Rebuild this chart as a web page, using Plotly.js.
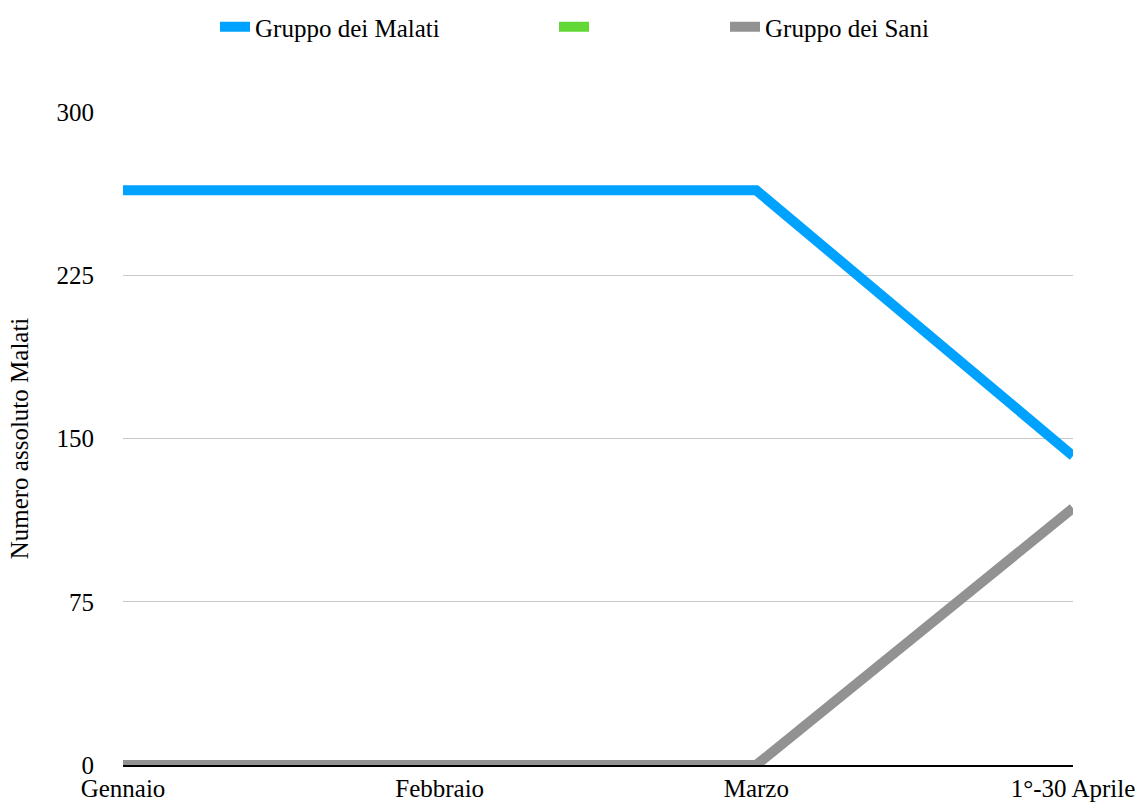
<!DOCTYPE html>
<html>
<head>
<meta charset="utf-8">
<script src="https://cdn.plot.ly/plotly-3.0.1.min.js"></script>
<style>html,body{margin:0;padding:0;background:#fff;}#chart{width:1142px;height:803px;}</style>
</head>
<body>
<div id="chart"></div>
<script>
const categories = ["Gennaio", "Febbraio", "Marzo", "1°-30 Aprile"];
const malati = [264, 264, 264, 142];
const serieVerde = [null, null, null, null];
const sani = [0, 0, 0, 118];
const yTicks = [0, 75, 150, 225, 300];

const FONT = "Liberation Serif, Times New Roman, serif";

const traces = [
  {x: categories, y: serieVerde, name: "", type: "scatter", mode: "lines",
   line: {color: "#61D836", width: 10}, cliponaxis: false, legend: "legend2"},
  {x: categories, y: sani, name: "Gruppo dei Sani", type: "scatter", mode: "lines",
   line: {color: "#929292", width: 10}, cliponaxis: false, legend: "legend3"},
  {x: categories, y: malati, name: "Gruppo dei Malati", type: "scatter", mode: "lines",
   line: {color: "#00A2FF", width: 10}, cliponaxis: false, legend: "legend"}
];

const legBase = {orientation: "h", xref: "container", yref: "container", xanchor: "left", yanchor: "middle",
  y: 1 - 27/803, font: {family: FONT, size: 25, color: "#000"}, bgcolor: "rgba(0,0,0,0)", borderwidth: 0};

const layout = {
  width: 1142, height: 803,
  margin: {l: 123, r: 69, t: 112, b: 38, pad: 0},
  paper_bgcolor: "#fff", plot_bgcolor: "#fff",
  font: {family: FONT, size: 25, color: "#000"},
  showlegend: true,
  legend: Object.assign({}, legBase, {x: 215/1142}),
  legend2: Object.assign({}, legBase, {x: 554/1142}),
  legend3: Object.assign({}, legBase, {x: 725/1142}),
  xaxis: {
    type: "category", range: [0, 3], showgrid: false, zeroline: false,
    showline: true, linecolor: "#000", linewidth: 2, layer: "below traces",
    ticks: "", tickfont: {family: FONT, size: 25, color: "#000"}, fixedrange: true
  },
  yaxis: {
    range: [0, 300], tickvals: yTicks, ticktext: yTicks.map(String),
    showgrid: true, gridcolor: "#c8c8c8", gridwidth: 1, zeroline: false, showline: false,
    ticks: "", ticklabelstandoff: 28, layer: "below traces", automargin: true,
    tickfont: {family: FONT, size: 25, color: "#000"},
    title: {text: "Numero assoluto Malati", standoff: 20, font: {family: FONT, size: 25, color: "#000"}},
    fixedrange: true
  }
};

Plotly.newPlot("chart", traces, layout, {displayModeBar: false, staticPlot: true});
</script>
</body>
</html>
